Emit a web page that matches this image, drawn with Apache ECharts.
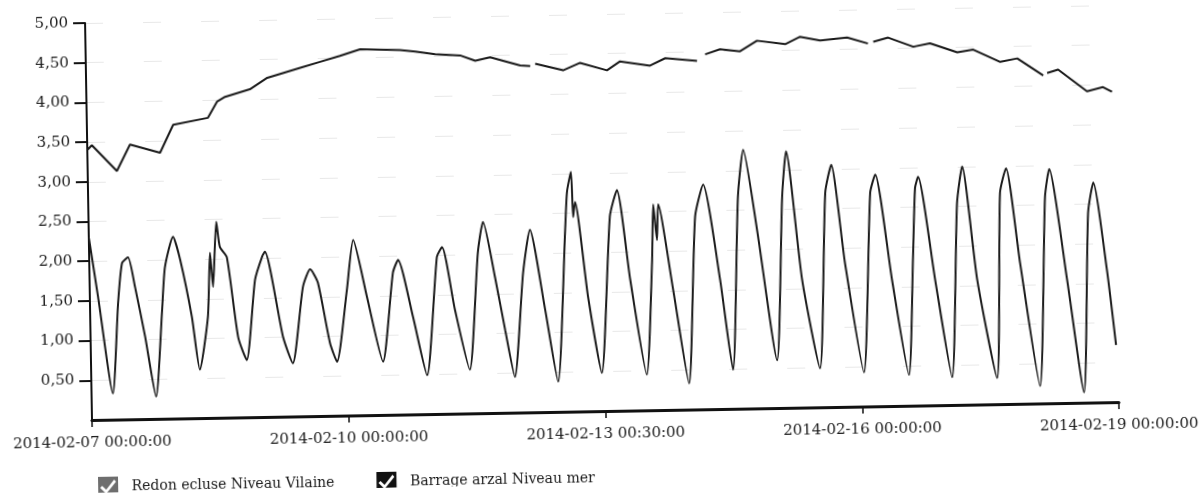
<!DOCTYPE html>
<html>
<head>
<meta charset="utf-8">
<script src="https://cdn.jsdelivr.net/npm/echarts@6/dist/echarts.min.js"></script>
<style>
  html, body { margin: 0; padding: 0; background: #fff; overflow: hidden; }
  #chart { width: 1203px; height: 493px; transform: rotate(-1deg); transform-origin: 92px 420px; }
</style>
</head>
<body>
<div id="chart"></div>
<script>
// Hours since 2014-02-07 00:00:00
const xTickLabels = ['2014-02-07 00:00:00', '2014-02-10 00:00:00', '2014-02-13 00:30:00', '2014-02-16 00:00:00', '2014-02-19 00:00:00'];
const seriesNames = ['Redon ecluse Niveau Vilaine', 'Barrage arzal Niveau mer'];

const redonHours = [0, 1.3, 8.2, 12.0, 20.4, 24.2, 34.0, 36.6, 38.9, 45.9, 50.8, 60.1, 65.7, 71.3, 77.0, 88.2, 92.4, 98.0, 105.0, 109.2,
  113.4, 121.8, 124.6, 125.3, 126.0, 133.8, 138.6, 146.1, 149.8, 158.2, 162.5, 171.4, 172.5, 173.7, 177.9, 183.5, 188.3, 196.2, 200.4, 206.0,
  213.6, 219.4, 220.2, 220.9, 225.1, 232.1, 236.8, 244.4, 248.9, 256.4, 261.2, 268.4, 269.0, 269.5, 272.6, 280.6, 285.1, 287.6];
const redonLevels = [3.40, 3.46, 3.13, 3.46, 3.35, 3.70, 3.78, 3.98, 4.04, 4.13, 4.27, 4.39, 4.46, 4.53, 4.61, 4.59, 4.57, 4.53, 4.51, 4.44,
  4.48, 4.37, 4.36, null, 4.39, 4.30, 4.39, 4.29, 4.40, 4.34, 4.43, 4.39, null, 4.47, 4.53, 4.50, 4.63, 4.58, 4.67, 4.62,
  4.65, 4.57, null, 4.59, 4.64, 4.52, 4.56, 4.44, 4.47, 4.31, 4.35, 4.13, null, 4.16, 4.20, 3.92, 3.97, 3.91];

const arzalHours = [0, 2.3, 6.0, 7.9, 9.2, 10.9, 12.7, 15.3, 18.1, 20.2,
  21.2, 23.6, 25.5, 28.5, 30.5, 33.0, 33.9, 34.6, 35.8, 36.7,
  38.6, 41.4, 43.7, 46.4, 48.5, 49.3, 54.0, 56.6, 59.8, 61.9,
  64.0, 67.1, 69.0, 72.1, 74.1, 77.7, 81.9, 85.1, 86.6, 90.5,
  94.2, 97.5, 99.0, 102.3, 106.2, 109.0, 110.6, 113.7, 116.3, 118.8,
  121.6, 123.7, 127.6, 130.9, 133.6, 134.3, 135.5, 135.9, 136.5, 139.7,
  143.2, 146.2, 148.3, 151.6, 155.8, 157.8, 158.4, 159.3, 159.8, 163.6,
  167.6, 170.1, 172.5, 176.8, 180.0, 182.2, 183.9, 187.4, 192.4, 194.6,
  195.9, 199.8, 204.4, 206.7, 208.5, 211.9, 216.7, 219.3, 220.8, 225.0,
  229.3, 231.0, 231.9, 232.8, 237.1, 241.4, 243.6, 245.2, 248.9, 254.0,
  255.7, 257.5, 261.0, 266.0, 268.3, 269.6, 274.1, 278.3, 280.3, 281.9,
  285.3, 287.5];
const arzalLevels = [2.30, 1.55, 0.33, 1.47, 1.97, 2.04, 1.67, 1.04, 0.28, 1.37,
  1.91, 2.29, 2.00, 1.28, 0.61, 1.27, 2.08, 1.65, 2.47, 2.15,
  2.02, 1.01, 0.72, 1.73, 2.02, 2.08, 1.00, 0.67, 1.63, 1.85,
  1.68, 0.92, 0.68, 1.58, 2.21, 1.49, 0.67, 1.79, 1.95, 1.23,
  0.49, 1.98, 2.10, 1.31, 0.55, 2.02, 2.41, 1.71, 1.04, 0.45,
  1.76, 2.30, 1.29, 0.38, 2.29, 2.77, 3.02, 2.45, 2.64, 1.44,
  0.48, 2.45, 2.78, 1.65, 0.45, 1.86, 2.59, 2.14, 2.59, 1.51,
  0.33, 2.43, 2.83, 1.63, 0.49, 2.67, 3.26, 2.25, 0.60, 2.66,
  3.23, 1.61, 0.49, 2.70, 3.05, 1.81, 0.43, 2.69, 2.92, 1.59,
  0.39, 1.87, 2.74, 2.88, 1.58, 0.35, 2.54, 3.00, 1.57, 0.33,
  2.66, 2.97, 1.77, 0.22, 2.60, 2.95, 1.55, 0.13, 2.39, 2.77,
  1.67, 0.72];

function pairs(hours, levels) {
  return hours.map((h, i) => [h, levels[i] === null ? '-' : levels[i]]);
}

const checkIcon = 'path://M0,0 L20,0 L20,20 L0,20 Z M2,11 L8,17 L18,5 L16,3 L8,13 L4,9 Z';
const FONT = 'DejaVu Serif';

const chart = echarts.init(document.getElementById('chart'), null, { renderer: 'canvas' });
chart.setOption({
  animation: false,
  backgroundColor: '#ffffff',
  grid: { left: 92, right: 84, top: 23, bottom: 73, containLabel: false },
  legend: {
    left: 92, top: 472,
    itemWidth: 21, itemHeight: 20, itemGap: 42,
    textStyle: { fontFamily: FONT, fontSize: 14, color: '#1a1a1a', padding: [0, 0, 0, 8] },
    data: [
      { name: seriesNames[0], icon: checkIcon, itemStyle: { color: '#6e6e6e' } },
      { name: seriesNames[1], icon: checkIcon, itemStyle: { color: '#111111' } }
    ],
    selectedMode: false
  },
  xAxis: {
    type: 'value', min: 0, max: 288, interval: 72,
    axisLine: { lineStyle: { color: '#111', width: 3 } },
    axisTick: { length: 7, lineStyle: { color: '#111', width: 1.5 } },
    splitLine: { show: false },
    axisLabel: {
      margin: 16, fontFamily: FONT, fontSize: 15, color: '#1a1a1a',
      formatter: v => xTickLabels[Math.round(v / 72)] || ''
    }
  },
  yAxis: {
    type: 'value', min: 0, max: 5, interval: 0.5,
    axisLine: { show: true, lineStyle: { color: '#111', width: 2 } },
    axisTick: { show: true, length: 12, lineStyle: { color: '#111', width: 2 } },
    axisLabel: {
      showMinLabel: false, margin: 17, fontFamily: FONT, fontSize: 15, color: '#1a1a1a',
      formatter: v => v.toFixed(2).replace('.', ',')
    },
    splitLine: { show: true, lineStyle: { color: '#e2e2e2', width: 1, type: [18, 40], opacity: 0.8 } }
  },
  series: [
    {
      name: seriesNames[0], type: 'line', showSymbol: false, connectNulls: false,
      lineStyle: { color: '#1a1a1a', width: 2 }, itemStyle: { color: '#1a1a1a' },
      data: pairs(redonHours, redonLevels)
    },
    {
      name: seriesNames[1], type: 'line', showSymbol: false, connectNulls: false,
      smooth: 0.2,
      lineStyle: { color: '#1a1a1a', width: 2 }, itemStyle: { color: '#1a1a1a' },
      data: pairs(arzalHours, arzalLevels)
    }
  ]
});
</script>
</body>
</html>
